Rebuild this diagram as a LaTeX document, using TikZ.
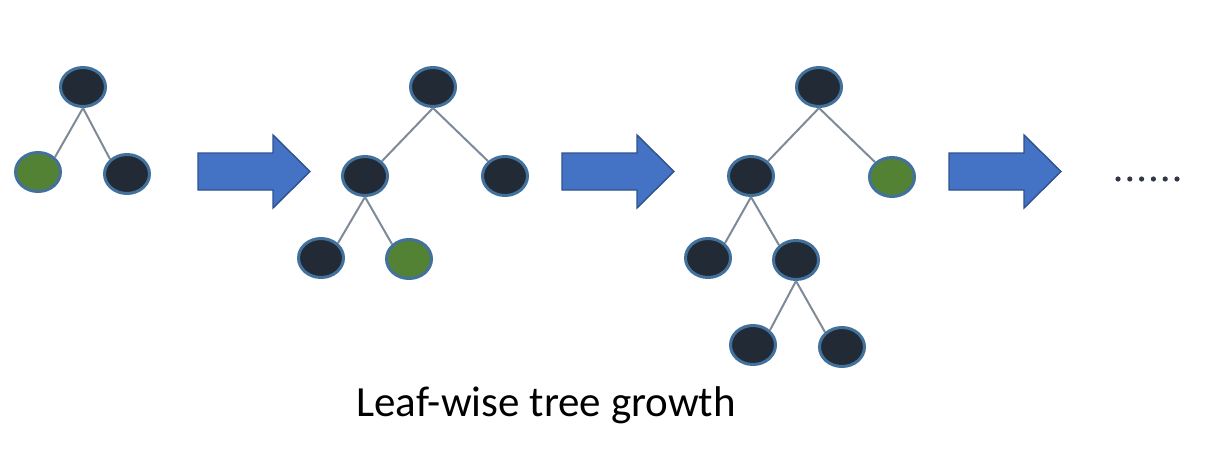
\documentclass[tikz,border=0pt]{standalone}
\usepackage{fontspec}
\setmainfont{Carlito}
\definecolor{knot}{HTML}{222A35}
\definecolor{leaf}{HTML}{548235}
\definecolor{rim}{HTML}{41719C}
\definecolor{twig}{HTML}{7F8A99}
\definecolor{pfeil}{HTML}{4472C4}
\definecolor{pfeilrand}{HTML}{2F528F}
\tikzset{
  knoten/.style={ellipse, draw=rim, line width=3pt, fill=knot,
                 minimum width=45pt, minimum height=39pt, inner sep=0pt},
  blatt/.style={knoten, fill=leaf},
  ast/.style={draw=twig, line width=2pt},
}
\usetikzlibrary{shapes.geometric}
\begin{document}
\begin{tikzpicture}[x=1pt,y=-1pt]

  \useasboundingbox (0,0) rectangle (1211,463);

  % strom 1
  \node[knoten] (a0)  at (83,87)  {};
  \node[blatt]  (a1)  at (38,172) {};
  \node[knoten] (a2)  at (127,174) {};
  \draw[ast] (a0.south)--(a1.north east);
  \draw[ast] (a0.south)--(a2.north west);

  % strom 2
  \node[knoten] (b0)  at (433,87)  {};
  \node[knoten] (b1)  at (365,176) {};
  \node[knoten] (b2)  at (505,176) {};
  \node[knoten] (b11) at (321,258) {};
  \node[blatt]  (b12) at (409,259) {};
  \draw[ast] (b0.south)--(b1.north east);
  \draw[ast] (b0.south)--(b2.north west);
  \draw[ast] (b1.south)--(b11.north east);
  \draw[ast] (b1.south)--(b12.north west);

  % strom 3
  \node[knoten] (c0)   at (819,87)  {};
  \node[knoten] (c1)   at (751,176) {};
  \node[blatt]  (c2)   at (892,177) {};
  \node[knoten] (c11)  at (708,258) {};
  \node[knoten] (c12)  at (796,260) {};
  \node[knoten] (c121) at (753,345) {};
  \node[knoten] (c122) at (842,347) {};
  \draw[ast] (c0.south)--(c1.north east);
  \draw[ast] (c0.south)--(c2.north west);
  \draw[ast] (c1.south)--(c11.north east);
  \draw[ast] (c1.south)--(c12.north west);
  \draw[ast] (c12.south)--(c121.north east);
  \draw[ast] (c12.south)--(c122.north west);

  % pfeile
  \def\Py{171.5};
  \foreach \Px in {198,562,949}
  {
    \draw[fill=pfeil, draw=pfeilrand, line width=1.4pt, line join=miter]
      (\Px,\Py-18.5)--(\Px+75,\Py-18.5)--(\Px+75,\Py-36.5)--(\Px+112,\Py)
      --(\Px+75,\Py+36.5)--(\Px+75,\Py+18.5)--(\Px,\Py+18.5)--cycle;
  }

  % punkte
  \foreach \i in {0,...,5}
    \fill[knot!85!twig] (1118+11.8*\i,179) circle (2.6);

  \node[text=black, font=\fontsize{43}{50}\selectfont] (titel) at (546,405)
       {Leaf-wise tree growth};

\end{tikzpicture}
\end{document}
